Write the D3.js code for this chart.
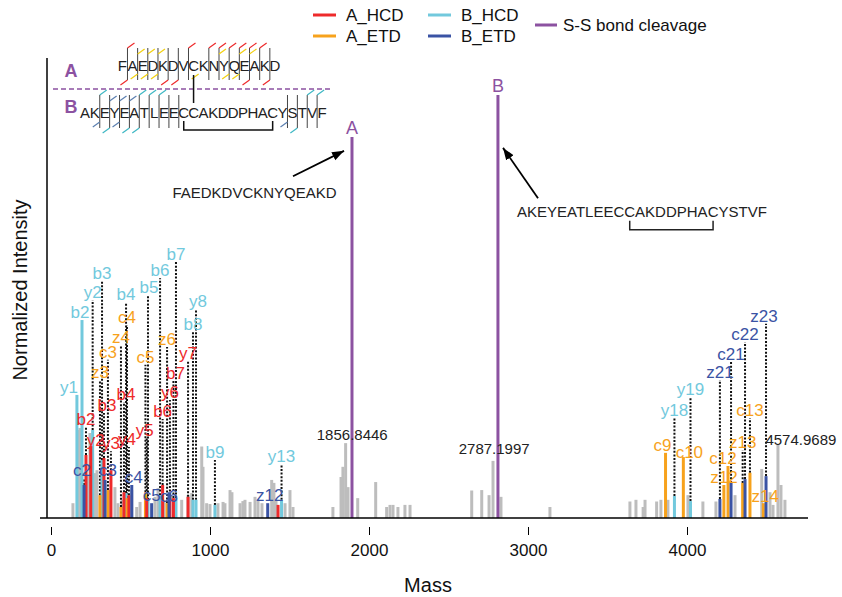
<!DOCTYPE html>
<html lang="en">
<head>
<meta charset="UTF-8">
<title>Disulfide spectrum</title>
<script src="https://d3js.org/d3.v7.min.js"></script>
<style>
  body { margin: 0; background: #fff; }
  text { font-family: "Liberation Sans", Arial, Helvetica, sans-serif; }
</style>
</head>
<body>
<svg id="chart"></svg>
<script>
const width = 842, height = 597;

// unassigned peaks: [mass, intensity]
const grayPeaks = [
  [138, 3.5], [170, 20.8], [182, 21.3], [225, 7.8], [233, 10.2], [245, 20.1], [264, 8.3],
  [277, 10.6], [289, 11.3], [319, 12.1], [333, 9], [371, 6.6], [402, 7.3], [421, 3.5],
  [447, 4.3], [508, 6.6], [539, 2.6], [560, 3.8], [654, 5], [673, 7.1], [711, 4.3],
  [822, 4.3], [862, 5.4], [885, 5.9], [948, 16.9], [956, 12.1], [979, 3.5], [1000, 3.3],
  [1050, 3.5], [1082, 3.8], [1094, 3.5], [1126, 6.6], [1138, 6.1], [1189, 3.5], [1207, 4],
  [1220, 4.3], [1252, 3.8], [1283, 5], [1302, 4.3], [1327, 3.5], [1388, 9], [1402, 8.3],
  [1415, 4.3], [1472, 3.5], [1503, 6.6], [1522, 2.6],
  [1773, 2.6], [1824, 9.7], [1836, 12.1], [1853, 17.7], [1868, 7.3], [1929, 4.7],
  [2042, 8.5], [2111, 2.6], [2132, 3.1], [2151, 3.1], [2182, 2.6], [2226, 3.1], [2258, 3.1],
  [2646, 6.5], [2709, 6.6], [2755, 5.4], [2780, 13.5], [2830, 5], [3138, 2.6],
  [3641, 3.9], [3679, 4.3], [3724, 2.6], [3736, 4.3], [3809, 3.9], [3836, 4.3], [3880, 4.3],
  [4006, 5.4], [4100, 3.9], [4182, 3.9], [4302, 5.4], [4470, 11.6], [4522, 6.1],
  [4541, 3.1], [4572, 17.3], [4591, 7.8], [4616, 4.3]
];

// assigned fragments: [label, mass, intensity, annotation level]
const aHCD = [
  ["b2", 220, 14.9, 21.6], ["y2", 250, 17, 16.6], ["b3", 333, 14.2, 24.8], ["y3", 377, 11.3, 15.8],
  ["b4", 459, 6.1, 27.4], ["y4", 490, 5.4, 16.8], ["y5", 602, 4.7, 18.9], ["b6", 702, 7.8, 23.4],
  ["y6", 748, 5.4, 27.9], ["b7", 770, 4.7, 32.4], ["y7", 862, 5, 37.1], ["", 1428, 3.1, 3.1]
];
const aETD = [
  ["z3", 308, 5.4, 32.6], ["c3", 358, 6.6, 37.4], ["z4", 440, 2.6, 40.9], ["c4", 478, 4.7, 45.6],
  ["c5", 594, 6.1, 36.2], ["z6", 730, 3.5, 40.4], ["c9", 3865, 15.4, 15.4], ["c10", 3977, 14.4, 13.7],
  ["z12", 4232, 7.8, 7.8], ["c12", 4258, 12.3, 12.3], ["z13", 4350, 8.3, 16], ["c13", 4396, 10.7, 23.6],
  ["z14", 4480, 3.5, 3.3]
];
const bHCD = [
  ["y1", 163, 29.1, 29.1], ["b2", 195, 46.8, 46.8], ["y2", 262, 20.8, 51.5], ["b3", 321, 13.7, 56],
  ["b4", 472, 5.9, 51], ["b5", 610, 4.3, 52.7], ["b6", 686, 5.4, 56.7], ["b7", 786, 4.7, 60.5],
  ["b8", 893, 4.3, 44], ["y8", 912, 4.3, 49.4], ["b9", 1031, 3.1, 13.7], ["y13", 1450, 4.3, 12.8],
  ["y18", 3921, 5.2, 23.6], ["y19", 4022, 4, 28.6]
];
const bETD = [
  ["c2", 208, 7.8, 9.5], ["c3", 340, 9, 9.5], ["c4", 508, 7.8, 7.8], ["c5", 633, 3.5, 3.5],
  ["c6", 742, 6.1, 3.3], ["z12", 1363, 3.5, 3.5], ["z21", 4207, 4.5, 32.6], ["c21", 4277, 8.3, 36.9],
  ["c22", 4365, 9.2, 41.6], ["z23", 4497, 9.9, 45.9]
];

// S-S bond cleavage products: [label, mass, intensity]
const cleavage = [["A", 1893, 90.1], ["B", 2811, 100]];
// labelled peaks: [text, mass, level]
const massLabels = [["1856.8446", 1856.8, 18.4], ["2787.1997", 2787.2, 15.1], ["4574.9689", 4575, 17.3]];
const xTicks = [0, 1000, 2000, 3000, 4000];

const seqA = "FAEDKDVCKNYQEAKD";
const seqB = "AKEYEATLEECCAKDDPHACYSTVF";
// cleavage sites in the sequence sketch (n = after residue n)
const sepA = [1, 2, 3, 4, 5, 6, 7, 9, 10, 11, 12, 13, 14, 15];
const aTopHCD = [1, 7, 9, 10, 11, 12, 13, 14], aTopETD = [2, 3, 4, 10, 12, 13];
const aBotHCD = [1, 5, 6, 13, 15], aBotETD = [2, 3, 4, 8, 11, 12];
const sepB = [2, 3, 4, 5, 6, 7, 8, 9, 10, 21, 22, 23, 24];
const bTopHCD = [2, 6, 7, 8, 23, 24], bTopETD = [3, 4, 5];
const bBotHCD = [3, 5, 6, 22], bBotETD = [2, 4, 21];

const colors = {A_HCD: "#ee2a2b", A_ETD: "#f7a21c", B_HCD: "#72c9dd", B_ETD: "#3a53a4", SS: "#8c52a1"};
const grayColor = "#bdbdbd";
const nudge = {"B_HCD:y1": -8, "B_HCD:b2": -2, "B_HCD:y8": 2, "B_HCD:b5": 1, "A_ETD:c9": -3,
  "A_ETD:c10": 6, "A_ETD:c12": -5, "A_ETD:z14": 2, "A_HCD:b3": 3, "A_HCD:b4": 2, "A_HCD:y2": 5,
  "A_HCD:y4": -2, "A_HCD:y5": -2, "A_HCD:b7": 2, "B_ETD:c2": -2, "B_ETD:c3": 3, "B_ETD:c4": 2,
  "B_ETD:z12": 2, "B_ETD:z23": -2};

const x = d3.scaleLinear().domain([0, 4000]).range([51, 687]);
const y = d3.scaleLinear().domain([0, 100]).range([518, 95]);

const svg = d3.select("#chart")
  .attr("width", width)
  .attr("height", height)
  .attr("viewBox", [0, 0, width, height]);

// gray peaks
svg.append("g")
  .attr("stroke", grayColor).attr("stroke-width", 3)
  .selectAll("line").data(grayPeaks).join("line")
  .attr("x1", d => x(d[0])).attr("x2", d => x(d[0]))
  .attr("y1", y(0)).attr("y2", d => y(d[1]));

const series = [
  {key: "B_HCD", data: bHCD}, {key: "A_ETD", data: aETD},
  {key: "A_HCD", data: aHCD}, {key: "B_ETD", data: bETD}
];

// dotted guide lines
const guides = svg.append("g").attr("stroke", "#111").attr("stroke-width", 2).attr("stroke-dasharray", "2,1.6");
series.forEach(s => {
  guides.selectAll(null).data(s.data.filter(d => d[3] > d[2] + 1)).join("line")
    .attr("x1", d => x(d[1])).attr("x2", d => x(d[1]))
    .attr("y1", d => y(d[2])).attr("y2", d => y(d[3]));
});

// colored bars
series.forEach(s => {
  svg.append("g").attr("stroke", colors[s.key]).attr("stroke-width", 3)
    .selectAll("line").data(s.data).join("line")
    .attr("x1", d => x(d[1])).attr("x2", d => x(d[1]))
    .attr("y1", y(0)).attr("y2", d => y(d[2]));
});

// S-S cleavage lines
svg.append("g").attr("stroke", colors.SS).attr("stroke-width", 3)
  .selectAll("line").data(cleavage).join("line")
  .attr("x1", d => x(d[1])).attr("x2", d => x(d[1]))
  .attr("y1", y(0)).attr("y2", d => y(d[2]));
svg.append("g").attr("fill", colors.SS).attr("font-size", 18).attr("text-anchor", "middle")
  .selectAll("text").data(cleavage).join("text")
  .attr("x", d => x(d[1])).attr("y", d => y(d[2]) - 3)
  .text(d => d[0]);

// fragment labels
series.forEach(s => {
  svg.append("g").attr("fill", colors[s.key]).attr("font-size", 17).attr("text-anchor", "middle")
    .selectAll("text").data(s.data.filter(d => d[0])).join("text")
    .attr("x", d => x(d[1]) + (nudge[s.key + ":" + d[0]] || 0))
    .attr("y", d => y(d[3]) - 2)
    .text(d => d[0]);
});

// mass labels
svg.append("g").attr("fill", "#222").attr("font-size", 15)
  .selectAll("text").data(massLabels).join("text")
  .attr("text-anchor", (d, i) => i === 2 ? "start" : "middle")
  .attr("x", (d, i) => x(d[1]) + (i === 0 ? 6 : i === 2 ? -13 : 0))
  .attr("y", d => y(d[2]))
  .text(d => d[0]);

// axes
svg.append("line").attr("x1", 40).attr("x2", 808).attr("y1", y(0)).attr("y2", y(0))
  .attr("stroke", "#000").attr("stroke-width", 1.5);
svg.append("line").attr("x1", 47).attr("x2", 47).attr("y1", 58).attr("y2", y(0))
  .attr("stroke", "#000").attr("stroke-width", 1.5);

const xAxis = svg.append("g").attr("transform", "translate(0,527)")
  .call(d3.axisBottom(x).tickValues(xTicks).tickSize(8).tickPadding(9).tickFormat(d3.format("d")));
xAxis.select(".domain").remove();
xAxis.attr("font-size", 17).attr("font-family", null);
xAxis.selectAll("text").attr("fill", "#111");

svg.append("text").attr("x", 428).attr("y", 592).attr("text-anchor", "middle")
  .attr("font-size", 20).attr("fill", "#111").text("Mass");
svg.append("text").attr("transform", "translate(27,290) rotate(-90)").attr("text-anchor", "middle")
  .attr("font-size", 20).attr("fill", "#111").text("Normalized Intensity");

// arrows with peptide text
svg.append("defs").append("marker")
  .attr("id", "arrow").attr("viewBox", "0 -5 12 10").attr("refX", 12).attr("refY", 0)
  .attr("markerWidth", 12).attr("markerHeight", 10).attr("markerUnits", "userSpaceOnUse")
  .attr("orient", "auto")
  .append("path").attr("d", "M0,-4.5L12,0L0,4.5Z").attr("fill", "#000");

const arrows = [[1522, 80.8, 1843, 86.8], [3063, 75.6, 2843, 87.5]];
svg.append("g").attr("stroke", "#000").attr("stroke-width", 1.8)
  .selectAll("line").data(arrows).join("line")
  .attr("x1", d => x(d[0])).attr("y1", d => y(d[1]))
  .attr("x2", d => x(d[2])).attr("y2", d => y(d[3]))
  .attr("marker-end", "url(#arrow)");

svg.append("text").attr("x", x(1280)).attr("y", y(75.6)).attr("text-anchor", "middle")
  .attr("font-size", 15).attr("fill", "#222").text(seqA);
const bText = svg.append("text").attr("x", x(2931)).attr("y", y(71.2))
  .attr("font-size", 15).attr("fill", "#222").text(seqB);
{
  const n = bText.node();
  const x0 = +bText.attr("x");
  const c1 = x0 + n.getSubStringLength(0, 11) + n.getSubStringLength(11, 1) / 2;
  const c2 = x0 + n.getSubStringLength(0, 19) + n.getSubStringLength(19, 1) / 2;
  const by = y(71.2);
  svg.append("path").attr("fill", "none").attr("stroke", "#222").attr("stroke-width", 1.5)
    .attr("d", `M${c1},${by + 4}V${by + 13}H${c2}V${by + 4}`);
}

// legend
const legend = [["A_HCD", 313, 19], ["A_ETD", 313, 40], ["B_HCD", 428, 19], ["B_ETD", 428, 40]];
const lg = svg.append("g").attr("font-size", 17).attr("fill", "#111");
legend.forEach(([k, lx, ly]) => {
  lg.append("line").attr("x1", lx).attr("x2", lx + 23).attr("y1", ly - 4).attr("y2", ly - 4)
    .attr("stroke", colors[k]).attr("stroke-width", 3);
  lg.append("text").attr("x", lx + 33).attr("y", ly + 2).text(k);
});
lg.append("line").attr("x1", 535).attr("x2", 557).attr("y1", 25).attr("y2", 25)
  .attr("stroke", colors.SS).attr("stroke-width", 3);
lg.append("text").attr("x", 563).attr("y", 31).text("S-S bond cleavage");

// sequence sketch
const sk = svg.append("g");
const yellow = "#f2d00f";
function drawPeptide(seq, x0, step, base, sepTop, sepBot, seps, topH, topE, botH, botE, cH, cE) {
  sk.append("g").attr("font-size", 15).attr("fill", "#222").attr("text-anchor", "middle")
    .selectAll("text").data(seq.split("")).join("text")
    .attr("x", (d, i) => x0 + (i + 0.5) * step).attr("y", base).text(d => d);
  const sx = i => x0 + i * step;
  sk.append("g").attr("stroke", "#444").attr("stroke-width", 1)
    .selectAll("line").data(seps).join("line")
    .attr("x1", sx).attr("x2", sx).attr("y1", sepTop).attr("y2", sepBot);
  // top ticks lean up-right, bottom ticks lean down-left
  const tick = (list, color, y0, ddx, ddy) => sk.append("g").attr("stroke", color).attr("stroke-width", 1.2)
    .selectAll("line").data(list).join("line")
    .attr("x1", sx).attr("y1", y0)
    .attr("x2", i => sx(i) + ddx).attr("y2", y0 + ddy);
  tick(topH, cH, sepTop, 7, -5);
  tick(topE, cE, sepTop + 6, 7, -5);
  tick(botH, cH, sepBot, -7, 5);
  tick(botE, cE, sepBot - 6, -7, 5);
}
drawPeptide(seqA, 117.3, 10.17, 71, 48, 80, sepA, aTopHCD, aTopETD, aBotHCD, aBotETD, colors.A_HCD, yellow);
drawPeptide(seqB, 80, 9.88, 118, 95, 128, sepB, bTopHCD, bTopETD, bBotHCD, bBotETD, "#3fb8c4", "#5b7fb0");

sk.append("text").attr("x", 71).attr("y", 77).attr("font-size", 18).attr("font-weight", "bold")
  .attr("text-anchor", "middle").attr("fill", colors.SS).text("A");
sk.append("text").attr("x", 71).attr("y", 113).attr("font-size", 18).attr("font-weight", "bold")
  .attr("text-anchor", "middle").attr("fill", colors.SS).text("B");
sk.append("line").attr("x1", 53).attr("x2", 330).attr("y1", 89).attr("y2", 89)
  .attr("stroke", colors.SS).attr("stroke-width", 1.5).attr("stroke-dasharray", "5,3");
// disulfide links
const cA = 117.3 + 7.5 * 10.17, cB11 = 80 + 10.5 * 9.88, cB20 = 80 + 19.5 * 9.88;
sk.append("line").attr("x1", cA).attr("x2", cA).attr("y1", 75).attr("y2", 103)
  .attr("stroke", "#111").attr("stroke-width", 1.5);
sk.append("path").attr("fill", "none").attr("stroke", "#111").attr("stroke-width", 1.5)
  .attr("d", `M${cB11},121V130H${cB20}V121`);
</script>
</body>
</html>
